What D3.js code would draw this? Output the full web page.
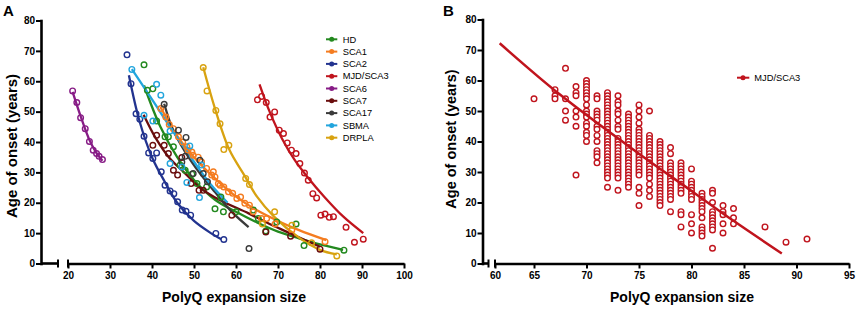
<!DOCTYPE html>
<html><head><meta charset="utf-8">
<script src="https://cdn.jsdelivr.net/npm/d3@7"></script>
<style>
body{margin:0;background:#fff;}
svg{display:block;font-family:Arial,"Liberation Sans",sans-serif;}
</style></head><body>
<svg id="c" width="857" height="309"></svg>
<script>
// ---------- DATA ----------
const seriesNames  = ["HD","SCA1","SCA2","MJD/SCA3","SCA6","SCA7","SCA17","SBMA","DRPLA"];
const seriesColors = ["#23891f","#f47c20","#22338f","#c0141d","#871c86","#6a0d0d","#3a3a3a","#22a5dd","#d8a210"];

// Panel A: observed points [polyQ size, age of onset]
const hdPoints = [[38.1,65.4],[38.9,57],[40.2,57.5],[41.1,46.9],[43.1,41.7],[43.9,41.7],[45.1,38.4],[46.7,32.4],[47.9,30.7],[49.5,29.4],[50.7,26.3],[53,25.2],[55,18],[56.4,21.9],[57,17],[60,17],[64.1,17.6],[65.3,14.8],[67.1,10.7],[69.7,13.7],[74.3,13],[76.2,5.9],[85.7,4.4]];
const sca1Points = [[42.1,51],[43.3,48.2],[44.1,45.8],[45.1,44.4],[46.3,41.7],[47.3,40],[48.3,38.4],[48.6,37.3],[49.5,36.7],[49.8,35.6],[51,35],[51.8,33.4],[53,31.3],[54.2,29.1],[54.6,30.2],[55,28.5],[55.8,26.3],[56.2,25.8],[57.1,25.2],[58.2,23.6],[59.2,23.1],[60.2,21.4],[61.1,21.9],[62.1,19.8],[63.2,19.2],[64.1,17],[66.1,14.8],[67.3,14.8],[69.3,13],[73.3,11],[81.2,7.2]];
const sca2Points = [[34.05,68.7],[35,59.2],[36.2,49.3],[37.1,47.5],[38.1,41.9],[39.2,36.4],[40.2,34.6],[41.1,36.4],[42.2,30.2],[43.1,25.8],[44.3,23.9],[45.2,23],[46.1,20.3],[47.2,17.6],[48.1,17.2],[49.2,15.9],[55.2,9.9],[57.1,7.9]];
const sca3Points = [[65.1,53.9],[66.1,55],[67.2,53],[68.1,48.2],[69.2,49.9],[70.3,43.9],[71.3,42.8],[72.2,39.7],[73.2,37.3],[74.3,36.2],[75.2,32.9],[76.3,29.8],[77.2,27.4],[78.3,23],[79.2,21.6],[80.2,15.9],[81.2,16.3],[82.2,15.2],[83.2,15.4],[86.2,11.9],[88.2,7],[90.3,8]];
const sca6Points = [[21.1,56.8],[22.1,53],[23,48],[24.1,44.4],[25.1,40.2],[26,37.3],[26.8,36.2],[27.4,35.3],[28.2,34.2]];
const sca7Points = [[40.2,38.9],[41.1,42.2],[42.9,38.9],[43.9,36.2],[45.1,30.7],[46.1,29.1],[47.1,34.9],[49.3,26.3],[51.2,24.1],[52.2,24.1],[59,15.9],[67.1,10.4],[73,9],[80,4.7]];
const sca17Points = [[42.9,52.4],[46.3,43.9],[48.1,41.5],[47.1,33.4],[47.9,35.3],[49.8,29.6],[51.4,34],[52.2,29.6],[53.2,26.9],[63.1,4.9]];
const sbmaPoints = [[35.2,63.9],[38.1,48.8],[40.2,46.9],[41.1,59],[42.1,55.4],[44.3,43.6],[49,38.7],[44.3,32.9],[47.1,31.8],[48.3,26.7],[51.3,21.7],[51.8,32.4]];
const drplaPoints = [[52.2,64.5],[53.1,56.8],[55.2,50.4],[56.2,46],[57.1,37.5],[58.3,38.9],[62.3,28],[63.2,26],[66.3,13],[69.2,17],[73.3,12.6],[78,6.8],[84,2.5]];

// Panel A: fitted curves
const hdFit = [[38.1,58.6],[42,45],[46,35],[50,27.5],[55,21],[60,17],[65,13.5],[70,10.5],[75,8.3],[80,6.3],[85.5,4.5]];
const sca1Fit = [[42,51.5],[46,42],[50,35],[55,28],[60,22],[65,17.5],[70,14],[75,11],[81.5,7.7]];
const sca2Fit = [[34.5,62],[37,47],[40,35],[43,27],[46,20],[50,14],[54,10],[56.5,8]];
const sca3Fit = [[65.6,59],[68,50],[71,41],[74,34],[77,28.5],[81,22],[85.5,15.5],[90.3,10]];
const sca6Fit = [[21.1,56.5],[23,48.5],[25,41],[26.5,37],[28.2,33.8]];
const sca7Fit = [[38,49],[41,41],[44,35],[48,29.5],[51.4,25],[56,21],[63,16.5],[68,13],[72,10.5],[76,8],[80,5.5]];
const sca17Fit = [[42.9,52.6],[45,44],[48,36.5],[51.5,29.5],[55,23.5],[59,17],[63,12]];
const sbmaFit = [[35.2,64],[40,54],[45,43.5],[50,33.5],[54,26],[58,20]];
const drplaFit = [[52.2,64.6],[55,51],[58.4,37.5],[62,29],[65,22],[69,15.5],[75,8.5],[80,4.5],[84,3]];

const pointsA = [hdPoints,sca1Points,sca2Points,sca3Points,sca6Points,sca7Points,sca17Points,sbmaPoints,drplaPoints];
const fitsA   = [hdFit,sca1Fit,sca2Fit,sca3Fit,sca6Fit,sca7Fit,sca17Fit,sbmaFit,drplaFit];

// Panel B: MJD/SCA3 individual patients, grouped by expansion size
const bSizes = [65,67,68,69,70,71,72,73,74,75,76,77,78,79,80,81,82,83,84,87,89,91];
const bAges = [
  [54],
  [57,55,54],
  [64,54,50,47],
  [58,56,55,50,48,45,29],
  [60,59,58,57,56,55,54,52,50,49,48,46,45,43,42,40],
  [55,54,50,49,48,47,45,44,42,40,37,36,35,33],
  [56,55,54,53,52,51,50,49,48,47,46,45,44,43,42,41,40,39,38,37,36,35,34,33,32,31,30,29,28,25],
  [55,53,52,50,49,47,45,44,41,40,39,38,37,36,35,34,33,32,31,30,29,28,24],
  [49,48,47,46,45,44,43,42,41,40,39,38,37,36,35,34,33,32,31,30,29,28,27,26,25],
  [52,50,48,46,44,43,42,41,40,39,38,37,36,35,34,33,32,31,30,29,25,23,19],
  [50,42,41,40,39,38,37,36,35,34,33,32,31,30,29,28,26,24,22],
  [40,39,38,37,36,35,34,33,32,31,30,29,28,27,26,25,24,23,22,21,20,19],
  [38,36,33,32,31,30,29,28,27,26,25,24,23,22,21,17],
  [33,32,31,30,29,28,27,26,25,24,23,17,16,12],
  [31,27,26,25,24,23,22,21,16,13,10],
  [23,22,21,20,19,18,17,15,12,11,10,9],
  [24,23,20,17,16,15,14,13,12,11,5],
  [19,17,16,13,10],
  [18,15,13],
  [12],
  [7],
  [8]
];
const bFit = [[60.6,72.2],[67.5,55.3],[74.8,36.5],[80,23.8],[84,14],[88.6,3.3]];
const bName = "MJD/SCA3";
const bColor = "#c0141d";

const yTicks = [0,10,20,30,40,50,60,70,80];
const xTicksA = [20,30,40,50,60,70,80,90,100];
const xTicksB = [60,65,70,75,80,85,90,95];

// ---------- SCALES ----------
const xA = d3.scaleLinear().domain([20,100]).range([68,404]);
const yA = d3.scaleLinear().domain([0,80]).range([263.5,20.5]);
const xB = d3.scaleLinear().domain([60,65,95]).range([495,534,849]);
const yB = d3.scaleLinear().domain([0,80]).range([263.5,19.5]);

const svg = d3.select("#c");

function styleAxis(g){
  g.select(".domain").attr("stroke","#000").attr("stroke-width",2.6).attr("stroke-linecap","square");
  g.selectAll(".tick line").attr("stroke","#000").attr("stroke-width",2);
  g.selectAll(".tick text").attr("fill","#000").attr("font-size","10px").attr("font-weight","bold")
    .attr("font-family","Arial,'Liberation Sans',sans-serif");
}

function drawAxes(x, y, yAxisX, xTicks, breakA, breakB, title, yTitleX, yTitleY, yTitleSize, xTitleX, letterX){
  const gy = svg.append("g").attr("transform",`translate(${yAxisX},0)`)
    .call(d3.axisLeft(y).tickValues(yTicks).tickSize(5).tickSizeOuter(0).tickPadding(1));
  styleAxis(gy);
  const gx = svg.append("g").attr("transform",`translate(0,${y(0)})`)
    .call(d3.axisBottom(x).tickValues(xTicks).tickSize(5).tickSizeOuter(0).tickPadding(3));
  styleAxis(gx);
  gx.select(".domain").attr("stroke-linecap","butt");
  // left stub of broken axis
  svg.append("line").attr("x1",yAxisX).attr("x2",breakA).attr("y1",y(0)).attr("y2",y(0))
    .attr("stroke","#000").attr("stroke-width",2.6);
  [breakA, breakB].forEach(bx=>{
    svg.append("line").attr("x1",bx).attr("x2",bx).attr("y1",y(0)-4).attr("y2",y(0)+4)
      .attr("stroke","#000").attr("stroke-width",2);
  });
  // titles
  svg.append("text").attr("transform",`translate(${yTitleX},${yTitleY}) rotate(-90)`)
    .attr("text-anchor","middle").attr("font-weight","bold").attr("font-size",yTitleSize+"px")
    .text("Age of onset (years)");
  svg.append("text").attr("x",xTitleX).attr("y",301.5).attr("text-anchor","middle")
    .attr("font-weight","bold").attr("font-size","14px").text("PolyQ expansion size");
  svg.append("text").attr("x",letterX).attr("y",15.5).attr("font-weight","bold")
    .attr("font-size","15px").text(title);
}

drawAxes(xA, yA, 41, xTicksA, 58, 68, "A", 16.5, 146, 15, 234, 3);
drawAxes(xB, yB, 482.5, xTicksB, 488.5, 495, "B", 455.5, 139, 14.5, 682, 443);

const lineA = d3.line().x(d=>xA(d[0])).y(d=>yA(d[1])).curve(d3.curveCatmullRom.alpha(0.5));
const lineB = d3.line().x(d=>xB(d[0])).y(d=>yB(d[1])).curve(d3.curveCatmullRom.alpha(0.5));

// Panel A: curves then points
fitsA.forEach((f,i)=>{
  svg.append("path").attr("d",lineA(f)).attr("fill","none")
    .attr("stroke",seriesColors[i]).attr("stroke-width",2.3);
});
pointsA.forEach((pts,i)=>{
  svg.append("g").selectAll("circle").data(pts).join("circle")
    .attr("cx",d=>xA(d[0])).attr("cy",d=>yA(d[1])).attr("r",2.8)
    .attr("fill","none").attr("stroke",seriesColors[i]).attr("stroke-width",1.4);
});

// Legend A
const legA = svg.append("g");
seriesNames.forEach((n,i)=>{
  const yy = 39.3 + i*12.3;
  legA.append("line").attr("x1",326).attr("x2",337.3).attr("y1",yy).attr("y2",yy)
    .attr("stroke",seriesColors[i]).attr("stroke-width",2);
  legA.append("circle").attr("cx",331.7).attr("cy",yy).attr("r",2.5).attr("fill",seriesColors[i]);
  legA.append("text").attr("x",342.7).attr("y",yy).attr("dy","0.35em").attr("font-size","9.3px")
    .attr("fill","#000").text(n);
});

// Panel B points
const bFlat = [];
bSizes.forEach((s,i)=>bAges[i].forEach(a=>bFlat.push([s,a])));
svg.append("g").selectAll("circle").data(bFlat).join("circle")
  .attr("cx",d=>xB(d[0])).attr("cy",d=>yB(d[1])).attr("r",2.8)
  .attr("fill","#fff").attr("stroke",bColor).attr("stroke-width",1.4);
svg.append("path").attr("d",lineB(bFit)).attr("fill","none").attr("stroke",bColor).attr("stroke-width",2.5);

// Legend B
svg.append("line").attr("x1",737).attr("x2",749.3).attr("y1",77.7).attr("y2",77.7)
  .attr("stroke",bColor).attr("stroke-width",2);
svg.append("circle").attr("cx",743).attr("cy",77.7).attr("r",2.5).attr("fill",bColor);
svg.append("text").attr("x",754.3).attr("y",77.7).attr("dy","0.35em").attr("font-size","9.3px").text(bName);
</script>
</body></html>
